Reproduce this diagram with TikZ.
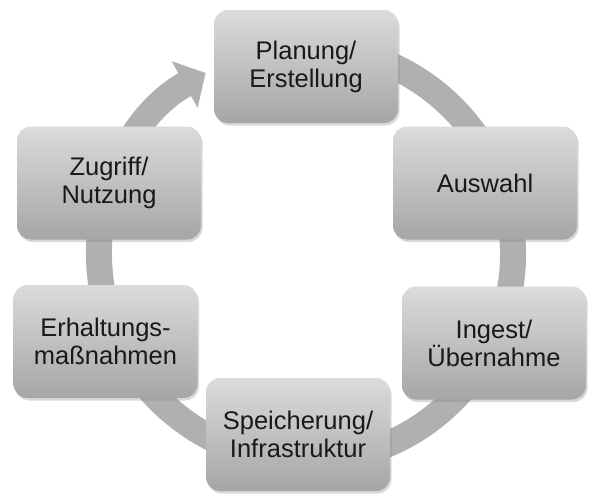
\documentclass[tikz,border=0pt]{standalone}
\usepackage{fontspec}
\setmainfont{Liberation Sans}
\usetikzlibrary{arrows.meta,shadows}
\tikzset{
  stage/.style={draw=none, rounded corners=14pt, minimum width=184pt, minimum height=113pt,
    top color=gray!28, bottom color=gray!70, align=center, text=black!90,
    font=\fontsize{25.5}{28}\selectfont,
    drop shadow={opacity=0.3, shadow xshift=1.5pt, shadow yshift=-2.5pt}},
  ring/.style={line width=26pt, draw=gray!62, -{Triangle[length=24pt, width=52pt]}}
}

\begin{document}
\begin{tikzpicture}[x=1pt,y=-1pt]
\useasboundingbox (0,0) rectangle (600,503);
\coordinate (ring) at (306,254);
\draw[ring] (ring) ++(-100:207) arc[start angle=-100, end angle=241, radius=207];
\node[stage] (planung) at (306,66.5) {Planung/\\Erstellung};
\node[stage] (auswahl) at (485,183) {Auswahl};
\node[stage] (ingest) at (494,343) {Ingest/\\Übernahme};
\node[stage] (speicher) at (298,434.5) {Speicherung/\\Infrastruktur};
\node[stage] (erhalt) at (105.5,341.5) {Erhaltungs-\\maßnahmen};
\node[stage] (zugriff) at (109,183) {Zugriff/\\Nutzung};
\end{tikzpicture}
\end{document}
